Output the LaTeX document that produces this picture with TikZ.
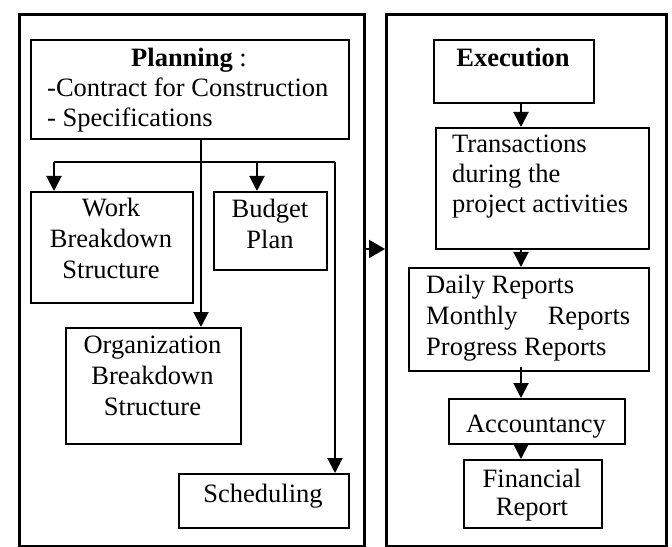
\documentclass[tikz,border=0pt]{standalone}
\usepackage{fontspec}
\setmainfont{Liberation Serif}
\usetikzlibrary{arrows.meta}
\begin{document}
\begin{tikzpicture}[x=1bp,y=-1bp,
 outer/.style={draw, line width=3.2bp, inner sep=0, anchor=north west},
 box/.style={draw, line width=1.6bp, inner sep=0, anchor=north west},
 txt/.style={inner sep=0, font=\fontsize{26.5bp}{31bp}\selectfont},
 conn/.style={line width=2bp},
 arr/.style={line width=2bp, -{Triangle[width=15bp,length=15bp]}},
 bigarr/.style={line width=2bp, -{Triangle[width=18bp,length=16bp]}}]
\useasboundingbox (0,0) rectangle (672,547);
% outer panels
\node[outer, minimum width=345bp, minimum height=532bp] (left) at (18,13) {};
\node[outer, minimum width=280bp, minimum height=532bp] (right) at (385,13) {};
% left boxes
\node[box, minimum width=318bp, minimum height=99bp] (plan) at (30,39) {};
\node[box, minimum width=162bp, minimum height=111bp] (wbs) at (30,191) {};
\node[box, minimum width=113bp, minimum height=78bp] (bud) at (213,191) {};
\node[box, minimum width=175bp, minimum height=116bp] (org) at (65,327) {};
\node[box, minimum width=170bp, minimum height=54bp] (sch) at (178,473) {};
% right boxes
\node[box, minimum width=160bp, minimum height=63bp] (exec) at (433,39) {};
\node[box, minimum width=213bp, minimum height=121bp] (trans) at (435,127) {};
\node[box, minimum width=240bp, minimum height=103bp] (rep) at (408,267) {};
\node[box, minimum width=176bp, minimum height=45bp] (acc) at (448,398) {};
\node[box, minimum width=138bp, minimum height=68bp] (fin) at (463,459) {};
% texts left
\node[txt, anchor=base] (plan1) at (189,67) {\textbf{Planning} :};
\node[txt, anchor=base west] (plan2) at (47,97) {-Contract for Construction};
\node[txt, anchor=base west] (plan3) at (47,127) {- Specifications};
\node[txt, anchor=base] (wbs1) at (111,217) {Work};
\node[txt, anchor=base] (wbs2) at (111,248) {Breakdown};
\node[txt, anchor=base] (wbs3) at (111,278) {Structure};
\node[txt, anchor=base] (bud1) at (270,218) {Budget};
\node[txt, anchor=base] (bud2) at (270,249) {Plan};
\node[txt, anchor=base] (org1) at (152.5,353) {Organization};
\node[txt, anchor=base] (org2) at (152.5,384) {Breakdown};
\node[txt, anchor=base] (org3) at (152.5,415) {Structure};
\node[txt, anchor=base] (sch1) at (263,502) {Scheduling};
% texts right
\node[txt, anchor=base] (exec1) at (513,67) {\textbf{Execution}};
\node[txt, anchor=base west] (tr1) at (452,153) {Transactions};
\node[txt, anchor=base west] (tr2) at (452,183) {during the};
\node[txt, anchor=base west] (tr3) at (452,213) {project activities};
\node[txt, anchor=base west] (rep1) at (426,293) {Daily Reports};
\node[txt, anchor=base west] (rep2) at (426,324) {\makebox[204bp][s]{Monthly Reports}};
\node[txt, anchor=base west] (rep3) at (426,355) {Progress Reports};
\node[txt, anchor=base] (acc1) at (536,432) {Accountancy};
\node[txt, anchor=base] (fin1) at (532,487) {Financial};
\node[txt, anchor=base] (fin2) at (532,515) {Report};
% helper coordinates
\coordinate (vx) at (201,0);
\coordinate (busL) at (54,162);
\coordinate (busR) at (335,162);
\coordinate (busB) at (257,162);
\coordinate (ax) at (521,0);
\coordinate (my) at (0,249);
% connectors left
\draw[arr] (plan.south -| vx) -- (org.north -| vx);
\draw[conn] (busL) -- (busR);
\draw[arr] (busL) -- (busL |- wbs.north);
\draw[arr] (busB) -- (busB |- bud.north);
\draw[arr] (busR) -- (busR |- sch.north);
% main arrow
\draw[bigarr] (left.east |- my) -- (right.west |- my);
% connectors right
\draw[arr] (exec.south -| ax) -- (trans.north -| ax);
\draw[arr] (trans.south -| ax) -- (rep.north -| ax);
\draw[arr] ([yshift=5bp]rep.south -| ax) -- (acc.north -| ax);
\draw[arr] (acc.south -| ax) -- (fin.north -| ax);
\end{tikzpicture}
\end{document}
